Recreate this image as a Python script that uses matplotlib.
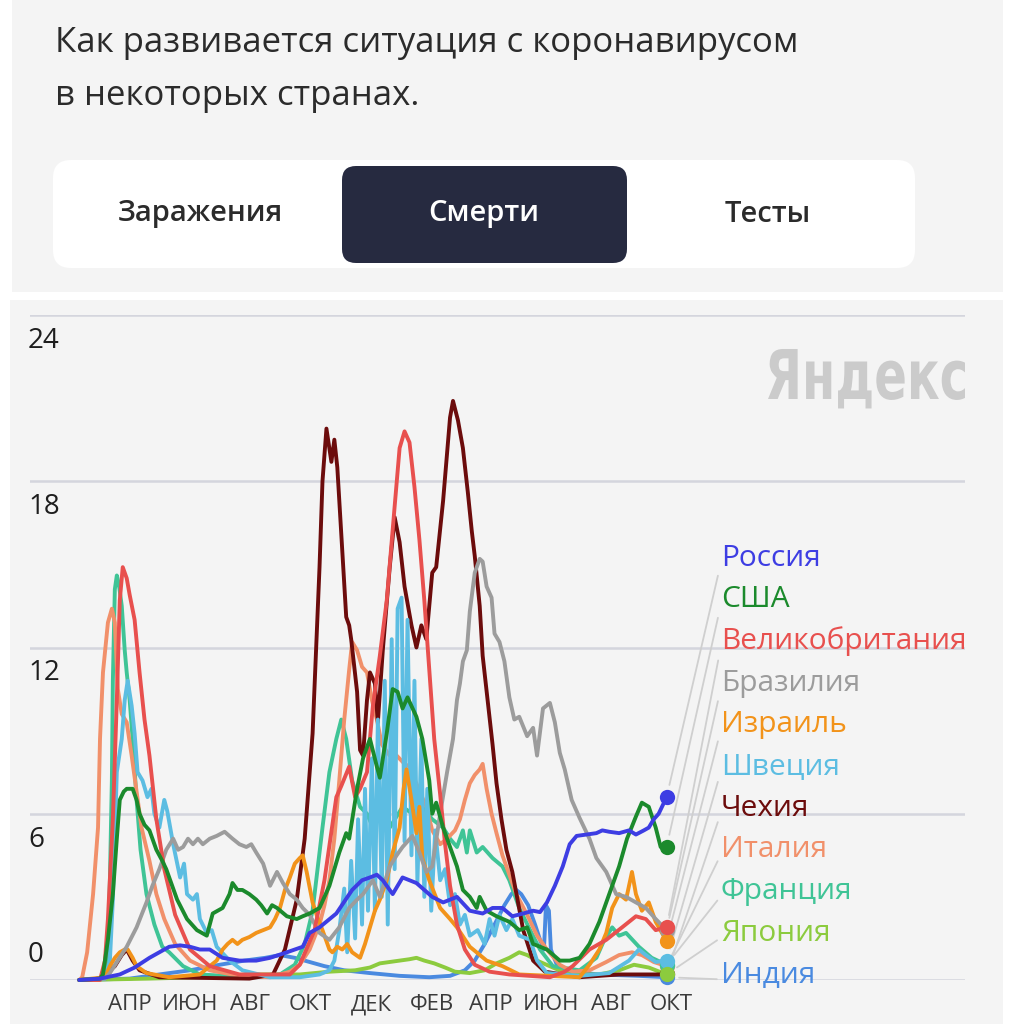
import matplotlib
matplotlib.use('Agg')
import matplotlib.pyplot as plt
from matplotlib.patches import FancyBboxPatch, Rectangle, PathPatch
from matplotlib.textpath import TextPath
from matplotlib.font_manager import FontProperties
from matplotlib.transforms import Affine2D

# days since 2020-01-01, deaths per million (7-day average)
russia_days = [40, 61, 81, 96, 111, 121, 131, 142, 152, 162, 172, 185, 202, 219, 233, 250, 266, 273, 283, 300,
               316, 326, 334, 341, 347, 357, 367, 374, 381, 389, 397, 408, 415, 422, 435, 448, 458, 468, 478, 489,
               499, 506, 513, 521, 529, 536, 543, 553, 563, 569, 576, 586, 596, 603, 611, 616, 621, 626, 634]
russia_vals = [0, 0.05, 0.2, 0.45, 0.8, 1.0, 1.2, 1.25, 1.2, 1.1, 1.1, 0.8, 0.7, 0.7, 0.8, 1.0, 1.2, 1.7, 1.9, 2.4,
               3.25, 3.6, 3.7, 3.8, 3.6, 3.1, 3.7, 3.6, 3.5, 3.25, 3.0, 2.8, 2.9, 3.0, 2.5, 2.4, 2.6, 2.6, 2.3, 2.4,
               2.5, 2.45, 2.8, 3.4, 4.1, 4.9, 5.2, 5.25, 5.3, 5.4, 5.35, 5.3, 5.4, 5.25, 5.4, 5.5, 5.8, 6.0, 6.6]

usa_days = [40, 61, 64, 69, 74, 78, 81, 85, 88, 91, 94, 98, 101, 106, 111, 118, 124, 128, 134, 139,
            149, 159, 169, 172, 175, 185, 192, 195, 200, 205, 212, 219, 224, 230, 235, 240, 245, 250, 260, 266,
            273, 283, 293, 303, 310, 313, 321, 327, 334, 341, 344, 351, 357, 362, 367, 372, 381, 387, 394, 397,
            401, 408, 415, 422, 428, 435, 442, 445, 452, 462, 475, 485, 493, 499, 513, 526, 536, 546, 556, 566,
            576, 586, 594, 603, 609, 616, 623, 628, 634]
usa_vals = [0, 0.05, 0.2, 1.45, 3.1, 5.1, 6.5, 6.8, 6.9, 6.9, 6.9, 6.5, 6.0, 5.6, 5.4, 4.7, 4.3, 4.0, 3.4, 2.9,
            2.2, 1.8, 1.6, 2.0, 2.4, 2.6, 3.1, 3.5, 3.25, 3.25, 3.1, 2.9, 2.7, 2.4, 2.7, 2.6, 2.45, 2.3, 2.2, 2.3,
            2.4, 2.6, 3.4, 4.6, 5.3, 5.1, 6.9, 8.0, 8.7, 7.7, 7.3, 8.9, 10.5, 10.4, 9.8, 10.2, 9.5, 8.7, 7.2, 6.0,
            6.4, 5.5, 4.8, 4.1, 3.25, 3.0, 2.6, 3.0, 2.5, 2.3, 2.1, 1.8, 1.9, 1.3, 1.1, 0.7, 0.7, 0.8, 1.3, 2.1,
            3.1, 4.1, 5.1, 5.9, 6.4, 6.25, 5.5, 4.8, 4.8]

uk_days = [40, 61, 66, 69, 74, 78, 81, 84, 88, 91, 96, 101, 106, 111, 118, 126, 137, 152, 172, 202,
           253, 263, 278, 288, 300, 305, 313, 319, 324, 331, 337, 344, 351, 359, 364, 369, 374, 379, 384, 389,
           394, 399, 405, 410, 415, 422, 430, 440, 455, 475, 516, 531, 539, 556, 573, 589, 603, 613, 623, 634]
uk_vals = [0, 0, 0.7, 2.2, 5.8, 10.1, 13.7, 14.9, 14.5, 13.9, 13.0, 11.1, 9.4, 8.1, 5.8, 4.0, 2.35, 1.1, 0.5, 0.2,
           0.2, 0.55, 1.8, 3.6, 6.6, 7.0, 7.7, 6.6, 6.9, 7.5, 9.9, 11.7, 13.7, 17.1, 19.2, 19.8, 19.4, 17.8, 15.9, 13.7,
           11.2, 8.7, 6.7, 4.9, 3.4, 2.0, 1.1, 0.55, 0.3, 0.2, 0.1, 0.3, 0.5, 1.1, 1.45, 1.9, 2.3, 2.2, 1.8, 1.9]

brazil_days = [40, 66, 71, 79, 88, 98, 108, 114, 121, 128, 135, 140, 145, 150, 155, 160, 165, 172, 179, 187,
               195, 202, 209, 214, 219, 226, 233, 240, 246, 253, 260, 266, 273, 283, 293, 303, 313, 321, 327, 337,
               344, 354, 361, 367, 377, 384, 391, 397, 405, 412, 418, 422, 425, 428, 432, 435, 440, 445, 448, 452,
               457, 460, 465, 470, 475, 480, 485, 493, 499, 503, 509, 516, 521, 526, 531, 538, 546, 556, 563, 573,
               583, 593, 603, 613, 623, 634]
brazil_vals = [0, 0.05, 0.25, 0.7, 1.2, 1.9, 2.8, 3.4, 4.0, 4.7, 5.1, 4.7, 4.8, 5.1, 4.9, 5.1, 4.9, 5.1, 5.2, 5.35,
               5.1, 4.9, 4.8, 4.9, 4.6, 4.2, 3.4, 3.9, 3.5, 3.1, 2.9, 2.6, 2.35, 1.7, 1.45, 1.9, 2.6, 2.9, 3.1, 3.6,
               3.0, 4.1, 4.5, 4.8, 5.2, 4.6, 3.9, 4.1, 6.0, 7.5, 8.7, 10.1, 10.7, 11.5, 11.9, 13.3, 14.7, 15.2, 15.1, 14.2,
               13.8, 12.5, 12.2, 11.5, 10.2, 9.4, 9.5, 8.8, 9.1, 8.1, 9.8, 10.0, 9.3, 8.2, 7.6, 6.5, 5.85, 5.1, 4.4, 3.9,
               3.1, 3.0, 2.8, 2.6, 2.2, 1.8]

israel_days = [40, 66, 71, 76, 81, 86, 89, 94, 98, 108, 131, 162, 172, 179, 185, 190, 195, 200, 205, 212,
               219, 226, 233, 238, 243, 248, 253, 258, 263, 266, 270, 276, 281, 286, 293, 296, 301, 306, 311, 316,
               324, 329, 334, 339, 344, 351, 357, 364, 368, 371, 376, 381, 384, 387, 394, 405, 415, 422, 435, 452,
               468, 485, 546, 556, 566, 573, 579, 586, 593, 599, 603, 609, 616, 623, 634]
israel_vals = [0, 0.1, 0.5, 0.8, 1.0, 1.1, 1.1, 0.8, 0.5, 0.25, 0.1, 0.2, 0.5, 0.7, 1.1, 1.3, 1.45, 1.3, 1.45, 1.55,
               1.7, 1.8, 1.9, 2.2, 2.6, 3.25, 3.7, 4.2, 4.4, 4.5, 3.9, 2.8, 2.25, 1.8, 1.1, 1.0, 1.2, 1.1, 1.3, 1.0,
               0.8, 1.3, 1.9, 2.5, 2.9, 3.6, 4.6, 5.5, 6.9, 7.6, 6.5, 5.3, 6.25, 4.4, 3.6, 2.6, 2.2, 1.9, 1.2, 0.7,
               0.5, 0.2, 0.1, 0.55, 1.1, 1.7, 2.6, 3.1, 2.9, 3.9, 3.1, 2.5, 2.8, 2.1, 1.4]

sweden_days = [40, 66, 71, 74, 78, 83, 86, 89, 93, 96, 99, 104, 109, 113, 116, 121, 126, 129, 135, 142,
               146, 149, 155, 159, 162, 169, 174, 179, 192, 205, 233, 263, 283, 293, 298, 303, 308, 311, 315, 319,
               322, 326, 329, 332, 336, 339, 342, 346, 349, 352, 356, 359, 362, 366, 369, 372, 376, 379, 382, 386,
               389, 392, 396, 400, 405, 410, 415, 420, 425, 430, 435, 443, 450, 455, 460, 465, 472, 478, 485, 496,
               503, 513, 546, 576, 596, 606, 613, 623, 634]
sweden_vals = [0, 0.05, 0.7, 2.9, 7.5, 8.7, 10.1, 10.8, 9.9, 8.9, 7.5, 7.2, 6.6, 6.9, 6.0, 5.5, 6.5, 6.1, 4.9, 3.7,
               4.2, 3.1, 2.9, 3.1, 2.2, 1.7, 1.8, 1.2, 0.7, 0.35, 0.1, 0.1, 0.2, 0.35, 0.7, 1.8, 3.3, 1.0, 4.3, 1.5,
               5.8, 2.0, 6.9, 2.5, 8.0, 2.5, 9.4, 3.0, 10.8, 2.0, 12.3, 4.0, 13.4, 13.8, 5.0, 13.0, 4.5, 10.8, 3.5, 8.7,
               3.0, 6.9, 2.5, 5.4, 3.6, 4.0, 2.7, 3.1, 2.0, 2.35, 1.6, 1.8, 1.3, 2.2, 1.6, 2.35, 1.8, 2.2, 1.6, 1.45,
               0.7, 0.25, 0.15, 0.25, 0.7, 1.1, 0.9, 0.65, 0.7]

czech_days = [40, 61, 76, 83, 88, 94, 101, 121, 212, 236, 248, 260, 268, 276, 283, 286, 290, 295, 298, 301,
              306, 310, 313, 315, 321, 324, 327, 331, 334, 339, 342, 347, 354, 359, 364, 369, 376, 381, 386, 391,
              397, 401, 408, 415, 418, 423, 428, 433, 437, 440, 445, 448, 453, 458, 462, 467, 472, 478, 489, 499,
              511, 546, 586, 634]
czech_vals = [0, 0.05, 0.5, 0.9, 1.1, 0.7, 0.35, 0.1, 0.05, 0.2, 1.1, 2.9, 5.1, 8.9, 14.9, 18.0, 19.9, 18.7, 19.5, 18.5,
              15.5, 13.1, 12.8, 12.3, 10.4, 8.3, 8.1, 10.1, 11.1, 10.7, 9.3, 11.9, 14.9, 16.7, 15.8, 14.2, 12.8, 12.0, 12.8, 12.3,
              14.7, 14.9, 17.3, 20.3, 20.9, 20.2, 19.2, 17.6, 16.2, 15.3, 13.5, 11.7, 10.1, 8.5, 7.1, 5.8, 4.7, 3.9, 1.8, 0.7,
              0.3, 0.1, 0.2, 0.2]

italy_days = [40, 43, 48, 54, 59, 61, 64, 69, 73, 76, 79, 83, 88, 93, 98, 103, 111, 118, 126, 137,
              152, 172, 202, 233, 253, 263, 273, 283, 288, 293, 298, 303, 308, 313, 316, 321, 326, 331, 336, 341,
              346, 354, 361, 369, 374, 382, 391, 397, 405, 412, 420, 425, 430, 435, 440, 445, 448, 452, 457, 462,
              468, 475, 482, 493, 503, 513, 526, 539, 556, 573, 586, 599, 609, 621, 634]
italy_vals = [0, 0.1, 1.0, 3.1, 5.5, 8.7, 11.1, 12.9, 13.4, 12.9, 10.5, 9.6, 9.3, 8.1, 6.8, 5.5, 4.3, 3.1, 2.2, 1.3,
              0.7, 0.35, 0.15, 0.1, 0.3, 0.55, 1.1, 2.0, 2.7, 3.6, 5.1, 7.2, 9.4, 11.2, 12.2, 11.9, 11.3, 11.1, 10.1, 9.4,
              8.5, 8.1, 8.1, 7.8, 7.7, 7.0, 6.25, 5.4, 4.9, 5.1, 5.4, 5.8, 6.5, 7.1, 7.4, 7.6, 7.8, 6.9, 6.0, 5.3,
              4.5, 3.8, 3.1, 2.35, 1.6, 1.1, 0.55, 0.3, 0.35, 0.65, 0.9, 1.0, 0.9, 0.65, 0.5]

france_days = [40, 66, 69, 71, 73, 74, 76, 78, 80, 83, 86, 88, 91, 94, 98, 102, 108, 116, 124, 131,
               145, 162, 212, 243, 258, 268, 276, 281, 286, 293, 300, 305, 310, 316, 324, 331, 337, 344, 354, 367,
               377, 387, 397, 408, 415, 422, 428, 432, 435, 442, 448, 458, 468, 475, 485, 496, 506, 519, 546, 563,
               571, 579, 586, 593, 606, 619, 634]
france_vals = [0, 0.05, 1.1, 3.6, 7.2, 10.8, 14.1, 14.6, 14.3, 13.5, 11.9, 11.1, 10.1, 8.7, 6.5, 4.7, 3.1, 2.0, 1.2, 1.0,
               0.5, 0.2, 0.1, 0.2, 0.55, 1.3, 2.5, 4.0, 5.5, 7.5, 8.7, 9.4, 8.7, 7.2, 6.25, 6.0, 5.5, 6.0, 5.5, 6.25,
               6.0, 6.25, 5.8, 5.5, 5.1, 4.8, 5.4, 4.6, 5.4, 4.6, 4.8, 4.4, 4.1, 3.6, 2.6, 1.8, 1.1, 0.5, 0.35, 0.8,
               1.45, 1.9, 1.6, 1.7, 1.2, 0.8, 0.55]

japan_days = [40, 111, 162, 212, 263, 293, 319, 334, 344, 354, 364, 374, 381, 389, 399, 410, 420, 435, 450, 462,
              475, 485, 493, 503, 519, 536, 566, 586, 601, 616, 634]
japan_vals = [0, 0.05, 0.1, 0.2, 0.2, 0.3, 0.35, 0.45, 0.6, 0.65, 0.7, 0.75, 0.8, 0.7, 0.6, 0.45, 0.3, 0.25, 0.35, 0.6,
              0.8, 1.0, 0.9, 0.7, 0.45, 0.2, 0.2, 0.35, 0.55, 0.45, 0.2]

india_days = [40, 91, 121, 152, 182, 207, 228, 243, 258, 273, 288, 308, 334, 364, 394, 415, 430, 440, 450, 460,
              470, 477, 482, 487, 494, 501, 506, 510, 512, 515, 517, 523, 536, 566, 606, 634]
india_vals = [0, 0.05, 0.2, 0.35, 0.55, 0.7, 0.8, 0.9, 0.8, 0.65, 0.5, 0.35, 0.25, 0.15, 0.1, 0.15, 0.35, 0.7, 1.3, 2.0,
              2.7, 3.1, 3.25, 3.1, 2.7, 2.0, 1.45, 1.1, 2.7, 2.5, 1.1, 0.55, 0.3, 0.2, 0.15, 0.1]

names = ['Россия', 'США', 'Великобритания', 'Бразилия', 'Израиль', 'Швеция',
         'Чехия', 'Италия', 'Франция', 'Япония', 'Индия']
colors = ['#3d3de3', '#1b8a2c', '#e8504e', '#9c9c9c', '#f2931a', '#5cbde2',
          '#6c0c0c', '#f1906a', '#3fc496', '#8ccb3e', '#4a8ae0']
series = [(russia_days, russia_vals), (usa_days, usa_vals), (uk_days, uk_vals),
          (brazil_days, brazil_vals), (israel_days, israel_vals), (sweden_days, sweden_vals),
          (czech_days, czech_vals), (italy_days, italy_vals), (france_days, france_vals),
          (japan_days, japan_vals), (india_days, india_vals)]
# which end dot sits on top of which (first = bottom)
dot_order = [6, 10, 3, 7, 8, 4, 2, 5, 9, 1, 0]

month_days = [91, 152, 213, 274, 335, 397, 456, 517, 578, 639]
month_labels = ['АПР', 'ИЮН', 'АВГ', 'ОКТ', 'ДЕК', 'ФЕВ', 'АПР', 'ИЮН', 'АВГ', 'ОКТ']
y_ticks = [0, 6, 12, 18, 24]

W, H = 1013, 1024
plt.rcParams['font.family'] = ['Open Sans', 'DejaVu Sans']

fig = plt.figure(figsize=(W / 100, H / 100), dpi=100)
fig.patch.set_facecolor('white')

# background layer in pixel coordinates
bg = fig.add_axes([0, 0, 1, 1])
bg.set_xlim(0, W)
bg.set_ylim(H, 0)
bg.axis('off')

bg.add_patch(Rectangle((12, 0), 991, 292, color='#f4f4f4', lw=0))
bg.add_patch(Rectangle((10, 300), 993, 724, color='#f4f4f4', lw=0))

bg.text(55, 43, 'Как развивается ситуация с коронавирусом', fontsize=25,
        color='#2b2b2b', va='center', ha='left')
bg.text(55, 96, 'в некоторых странах.', fontsize=25,
        color='#2b2b2b', va='center', ha='left')

bg.add_patch(FancyBboxPatch((53, 160), 862, 108, boxstyle='round,pad=0,rounding_size=18',
                            fc='white', ec='none'))
bg.add_patch(FancyBboxPatch((342, 166), 285, 97, boxstyle='round,pad=0,rounding_size=14',
                            fc='#262a40', ec='none'))
bg.text(200, 214, 'Заражения', fontsize=21, weight='semibold', color='#2b2b2b', ha='center', va='center')
bg.text(484, 214, 'Смерти', fontsize=21, weight='semibold', color='white', ha='center', va='center')
bg.text(768, 214, 'Тесты', fontsize=21, weight='semibold', color='#2b2b2b', ha='center', va='center')

# Yandex logo, squeezed into its box
logo_fp = FontProperties(family='DejaVu Sans', weight='bold')
tp = TextPath((0, 0), 'Яндекс', size=100, prop=logo_fp)
ext = tp.get_extents()
sx = 197 / ext.width
sy = 50 / 72.9
tr = Affine2D().translate(-ext.x0, 0).scale(sx, -sy).translate(768, 399)
bg.add_patch(PathPatch(tr.transform_path(tp), fc='#cbcbcb', ec='none'))

# chart axes: x in days, y in deaths per million
ax = fig.add_axes([30 / W, 1 - 980 / H, 935 / W, 665 / H])
ax.set_xlim(-9.8, 935.8)
ax.set_ylim(0, 24)
ax.axis('off')

for v in y_ticks:
    ax.axhline(v, color='#d4d5dd', lw=1.8, zorder=1)
    dy = 25 if v == 0 else -26
    ax.annotate(str(v), xy=(0, v), xycoords=('axes fraction', 'data'),
                xytext=(-2, dy), textcoords='offset pixels', fontsize=20,
                color='#1e1e1e', ha='left', va='center')

for d, lbl in zip(month_days, month_labels):
    ax.annotate(lbl, xy=(d, 0), xytext=(0, -25), textcoords='offset pixels',
                fontsize=16, color='#3a3a3a', ha='center', va='center')

n = len(series)
for i in range(n - 1, -1, -1):
    days, vals = series[i]
    ax.plot(days, vals, color=colors[i], lw=2.8, solid_joinstyle='round',
            solid_capstyle='round', zorder=3 + (n - i), clip_on=False)

for k, i in enumerate(dot_order):
    days, vals = series[i]
    ax.plot(days[-1], vals[-1], 'o', color=colors[i], ms=11, mec='none',
            zorder=20 + k, clip_on=False)

for i, name in enumerate(names):
    days, vals = series[i]
    ly = H - (558 + i * 41.7)
    ax.annotate(name, xy=(days[-1], vals[-1]), xytext=(721, ly), textcoords='figure pixels',
                fontsize=21.5, color=colors[i], ha='left', va='center',
                arrowprops=dict(arrowstyle='-', color='#cfcfcf', lw=1.3,
                                shrinkA=1, shrinkB=9, relpos=(0, 0.35)))

fig.savefig('out.png', dpi=100, facecolor='white')
